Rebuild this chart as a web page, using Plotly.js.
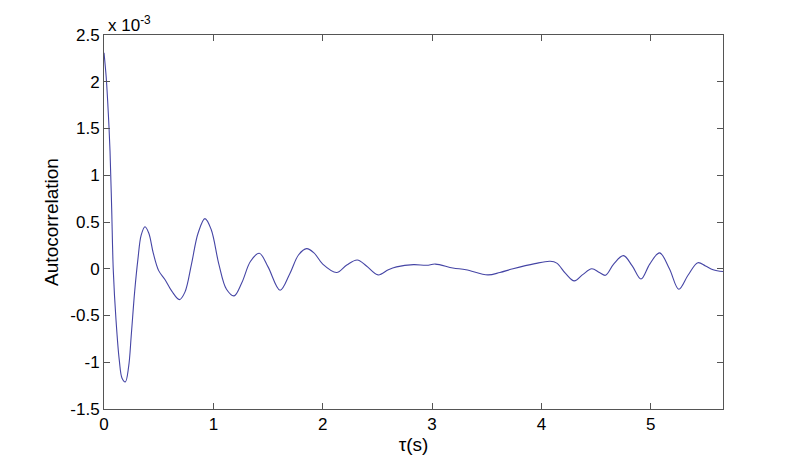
<!DOCTYPE html>
<html>
<head>
<meta charset="utf-8">
<script src="https://cdn.plot.ly/plotly-3.0.1.min.js"></script>
<style>html,body{margin:0;padding:0;background:#fff;}#chart{width:800px;height:460px;}</style>
</head>
<body>
<div id="chart"></div>
<script>
// lag tau in seconds
var tau = [0.000,0.020,0.040,0.055,0.070,0.085,0.110,0.140,0.165,0.195,0.225,0.250,0.280,0.310,0.340,0.375,0.410,0.450,0.500,0.560,0.620,0.690,0.740,0.800,0.860,0.923,0.980,1.050,1.120,1.190,1.260,1.340,1.420,1.500,1.610,1.700,1.780,1.853,1.920,2.000,2.127,2.220,2.316,2.400,2.507,2.600,2.675,2.830,2.950,3.030,3.190,3.310,3.510,3.620,3.740,3.940,4.080,4.140,4.220,4.300,4.380,4.460,4.530,4.585,4.660,4.750,4.830,4.910,4.990,5.080,5.170,5.256,5.340,5.430,5.500,5.570,5.660];
// autocorrelation in units of 1e-3
var autocorr = [2.31,2.05,1.65,1.26,0.65,-0.02,-0.55,-0.98,-1.17,-1.21,-1.05,-0.70,-0.25,0.10,0.36,0.45,0.38,0.17,-0.02,-0.12,-0.24,-0.33,-0.25,0.05,0.38,0.536,0.42,0.05,-0.22,-0.29,-0.15,0.08,0.166,0.02,-0.23,-0.05,0.15,0.215,0.17,0.05,-0.04,0.04,0.094,0.03,-0.066,-0.01,0.02,0.044,0.037,0.05,0.008,-0.01,-0.066,-0.04,0.0,0.055,0.08,0.06,-0.05,-0.13,-0.06,0.0,-0.04,-0.07,0.05,0.14,0.03,-0.11,0.05,0.17,0.0,-0.22,-0.07,0.065,0.03,-0.01,-0.03];
var xTicks = [0,1,2,3,4,5];
var yTicks = [-1.5,-1,-0.5,0,0.5,1,1.5,2,2.5];
var yTickText = ['-1.5','-1','-0.5','0','0.5','1','1.5','2','2.5'];

var font = {family: 'Liberation Sans, Arial, Helvetica, sans-serif', size: 17, color: '#000'};
var titleFont = {family: 'Liberation Sans, Arial, Helvetica, sans-serif', size: 19, color: '#000'};
var axisCommon = {
  showgrid: false, zeroline: false, showline: true, linecolor: '#555', linewidth: 1,
  mirror: 'ticks', ticks: 'inside', ticklen: 6, tickcolor: '#555', tickwidth: 1,
  tickfont: font
};

var trace = {
  x: tau, y: autocorr, type: 'scatter', mode: 'lines',
  line: {color: '#4545a5', width: 1.1, shape: 'spline', smoothing: 1},
  hoverinfo: 'skip'
};

var layout = {
  width: 800, height: 460,
  margin: {l: 104, r: 77, t: 35, b: 51},
  paper_bgcolor: '#fff', plot_bgcolor: '#fff',
  showlegend: false,
  font: font,
  xaxis: Object.assign({}, axisCommon, {
    range: [0, 5.66], tickvals: xTicks, ticktext: xTicks.map(String),
    title: {text: 'τ(s)', font: titleFont, standoff: 2}
  }),
  yaxis: Object.assign({}, axisCommon, {
    range: [-1.5, 2.5], tickvals: yTicks, ticktext: yTickText,
    title: {text: 'Autocorrelation', font: titleFont, standoff: 6}
  }),
  annotations: [{
    xref: 'paper', yref: 'paper', x: 0, y: 1, xanchor: 'left', yanchor: 'bottom',
    xshift: 2, yshift: -2, showarrow: false,
    text: 'x 10<sup>-3</sup>', font: font
  }]
};

Plotly.newPlot('chart', [trace], layout, {displayModeBar: false, staticPlot: true});
</script>
</body>
</html>
